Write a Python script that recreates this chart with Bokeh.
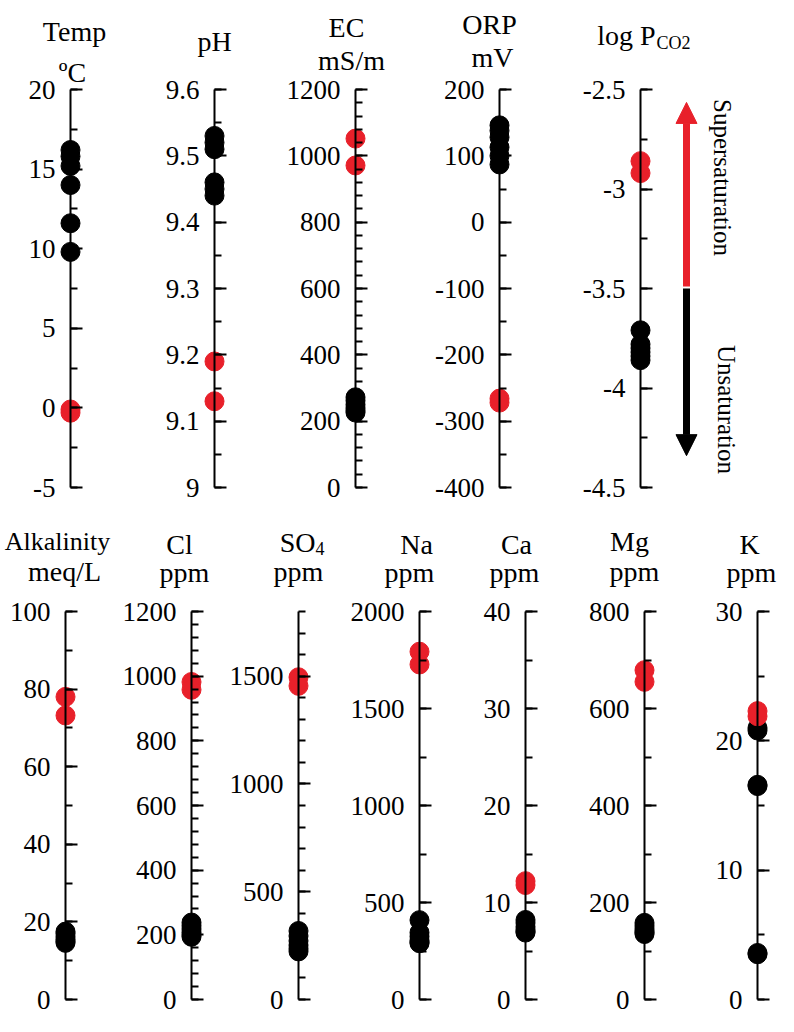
import math
from bokeh.plotting import figure
from bokeh.models import (Range1d, LinearAxis, FixedTicker, Arrow, NormalHead)
from bokeh.core.properties import value
from bokeh.embed import file_html
from bokeh.resources import INLINE

# ---------------- data ----------------
temp_black = [16.2, 15.8, 15.2, 14.0, 11.6, 9.8]
temp_red = [-0.1, -0.3]
ph_black = [9.53, 9.52, 9.51, 9.46, 9.45, 9.44]
ph_red = [9.19, 9.13]
ec_black = [272, 262, 250, 240, 232, 226]
ec_red = [1052, 971]
orp_black = [146, 138, 128, 113, 100, 87]
orp_red = [-266, -272]
pco2_black = [-3.71, -3.78, -3.80, -3.82, -3.84, -3.86]
pco2_red = [-2.86, -2.92]
alk_black = [17.5, 17.0, 16.2, 15.5, 15.0, 14.6]
alk_red = [78.0, 73.2]
cl_black = [238, 228, 218, 208, 200, 194]
cl_red = [982, 958]
so4_black = [318, 295, 272, 252, 236, 223]
so4_red = [1495, 1455]
na_black = [409, 345, 325, 305, 295, 290]
na_red = [1793, 1727]
ca_black = [8.2, 7.9, 7.5, 7.2, 7.0, 6.9]
ca_red = [12.2, 11.8]
mg_black = [158, 152, 146, 141, 138, 135]
mg_red = [679, 655]
k_black = [21.0, 20.8, 16.6, 16.5, 3.6, 3.5]
k_red = [22.3, 21.9]

# axis ticks (major labelled ticks) and tick labels
temp_ticks = [-5, 0, 5, 10, 15, 20]
ph_ticks = [9.0, 9.1, 9.2, 9.3, 9.4, 9.5, 9.6]
ec_ticks = [0, 200, 400, 600, 800, 1000, 1200]
orp_ticks = [-400, -300, -200, -100, 0, 100, 200]
pco2_ticks = [-4.5, -4.0, -3.5, -3.0, -2.5]
alk_ticks = [0, 20, 40, 60, 80, 100]
cl_ticks = [0, 200, 400, 600, 800, 1000, 1200]
so4_ticks = [0, 500, 1000, 1500]
na_ticks = [0, 500, 1000, 1500, 2000]
ca_ticks = [0, 10, 20, 30, 40]
mg_ticks = [0, 200, 400, 600, 800]
k_ticks = [0, 10, 20, 30]

# ---------------- layout / style ----------------
W, H = 778, 1016
RED = "#e8202a"
FONT = "Liberation Serif"
ROWS = {0: (89, 487), 1: (611, 999)}   # axis top / bottom in figure pixels

panels = [
    # name, lo, hi, majors, minor step, black, red, axis x (figure px), row
    ("temp", -5, 20, temp_ticks, 2.5, temp_black, temp_red, 70, 0),
    ("ph", 9.0, 9.6, ph_ticks, 0.05, ph_black, ph_red, 214, 0),
    ("ec", 0, 1200, ec_ticks, 40, ec_black, ec_red, 355, 0),
    ("orp", -400, 200, orp_ticks, 50, orp_black, orp_red, 499, 0),
    ("pco2", -4.5, -2.5, pco2_ticks, 0.25, pco2_black, pco2_red, 640, 0),
    ("alk", 0, 100, alk_ticks, 10, alk_black, alk_red, 65, 1),
    ("cl", 0, 1200, cl_ticks, 40, cl_black, cl_red, 191, 1),
    ("so4", 0, 1800, so4_ticks, 100, so4_black, so4_red, 298, 1),
    ("na", 0, 2000, na_ticks, 250, na_black, na_red, 419, 1),
    ("ca", 0, 40, ca_ticks, 5, ca_black, ca_red, 525, 1),
    ("mg", 0, 800, mg_ticks, 100, mg_black, mg_red, 644, 1),
    ("k", 0, 30, k_ticks, 5, k_black, k_red, 757, 1),
]

p = figure(width=W, height=H, x_range=Range1d(0, W), y_range=Range1d(H, 0),
           output_backend="svg", toolbar_location=None, min_border=0,
           x_axis_type=None, y_axis_type=None)
p.outline_line_color = None
p.background_fill_color = "white"
p.border_fill_color = "white"

LABEL_GAP = 15

for name, lo, hi, majors, mstep, blk, red, ax_x, row in panels:
    pt, pb = ROWS[row]
    k = (pb - pt) / (hi - lo)
    p.extra_y_ranges[name] = Range1d(lo - (H - pb) / k, hi + pt / k)
    n_minor = int(round((hi - lo) / mstep))
    minors = [lo + i * mstep for i in range(n_minor + 1)]
    ax = LinearAxis(y_range_name=name, fixed_location=ax_x, bounds=(lo, hi),
                    ticker=FixedTicker(ticks=majors, minor_ticks=minors))
    ax.axis_line_width = 2
    ax.axis_line_color = "black"
    ax.major_tick_line_width = 2
    ax.minor_tick_line_width = 2
    ax.major_tick_line_color = "black"
    ax.minor_tick_line_color = "black"
    ax.major_tick_in = 12
    ax.major_tick_out = 0
    ax.minor_tick_in = 7
    ax.minor_tick_out = 0
    ax.major_label_text_color = None
    ax.major_label_text_font_size = "1px"
    p.add_layout(ax, "left")
    # tick labels in a serif face
    p.text(x=[ax_x - LABEL_GAP] * len(majors), y=majors,
           text=[f"{v:g}" for v in majors], y_range_name=name,
           text_font=value(FONT), text_font_size="27px", text_align="right",
           text_baseline="middle", text_color="black")
    p.scatter(x=[ax_x] * len(blk), y=blk, y_range_name=name, size=19,
              fill_color="black", line_color="black")
    p.scatter(x=[ax_x] * len(red), y=red, y_range_name=name, size=19,
              fill_color=RED, line_color=RED)

# ---------------- titles ----------------
t_text = ["Temp", "ºC", "pH", "EC", "mS/m", "ORP", "mV",
          "meq/L", "Cl", "ppm", "ppm", "Na", "ppm",
          "Ca", "ppm", "Mg", "ppm", "K", "ppm"]
t_x = [74, 72, 214, 346, 351, 489, 492,
       64, 179, 184, 298, 416, 409,
       516, 514, 629, 634, 749, 751]
t_y = [31, 72, 41, 27, 60, 24, 57,
       571, 544, 572, 571, 544, 572,
       544, 572, 541, 571, 544, 572]
p.text(x=t_x, y=t_y, text=t_text, text_font=value(FONT), text_font_size="28px",
       text_align="center", text_baseline="alphabetic", text_color="black")
p.text(x=[57], y=[541], text=["Alkalinity"], text_font=value(FONT), text_font_size="26px",
       text_align="center", text_baseline="alphabetic", text_color="black")

# main parts of titles with subscripts (right-aligned) and the subscripts
p.text(x=[655, 315], y=[35, 542], text=["log P", "SO"], text_font=value(FONT),
       text_font_size="28px", text_align="right", text_baseline="alphabetic",
       text_color="black")
p.text(x=[656, 315], y=[42, 548], text=["CO2", "4"], text_font=value(FONT),
       text_font_size="18px", text_align="left", text_baseline="alphabetic",
       text_color="black")

# ---------------- saturation arrows ----------------
ARROW_X = 686
p.add_layout(Arrow(end=NormalHead(size=21, fill_color=RED, line_color=RED, line_width=1),
                   x_start=ARROW_X, y_start=-3.49, x_end=ARROW_X, y_end=-2.565,
                   y_range_name="pco2", line_color=RED, line_width=7))
p.add_layout(Arrow(end=NormalHead(size=21, fill_color="black", line_color="black", line_width=1),
                   x_start=ARROW_X, y_start=-3.50, x_end=ARROW_X, y_end=-4.34,
                   y_range_name="pco2", line_color="black", line_width=7))

p.text(x=[722, 726], y=[177, 409], text=["Supersaturation", "Unsaturation"],
       angle=-math.pi / 2, text_font=value(FONT), text_font_size="25px",
       text_align="center", text_baseline="middle", text_color="black")

open("out.html", "w").write(file_html(p, INLINE))
